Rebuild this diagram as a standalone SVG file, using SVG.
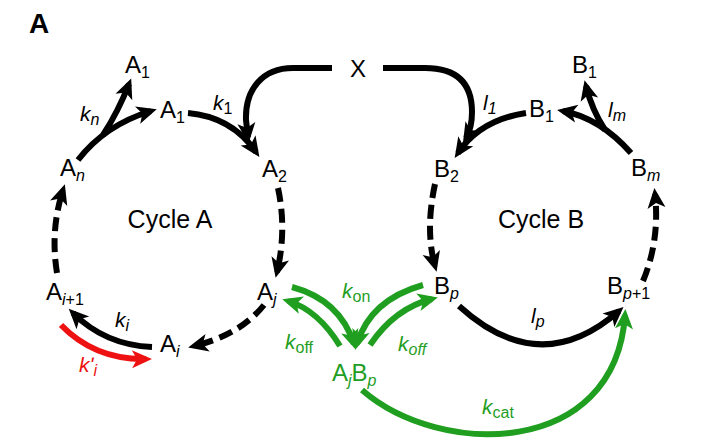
<svg xmlns="http://www.w3.org/2000/svg" width="728" height="444" viewBox="0 0 728 444">
<style>
text{font-family:"Liberation Sans",Arial,sans-serif;}
.n{font-size:24px;fill:#000;}
.r{font-size:21px;}
.it{font-style:italic;}
.sub{font-size:16px;}
.g{fill:#1f9e1f;}
.red{fill:#ee1111;}
.c{fill:none;stroke-width:6;stroke-linecap:butt;}
.k{stroke:#000;}
.gs{stroke:#1f9e1f;}
.rs{stroke:#ee1111;}
.d{stroke-dasharray:14,7;}
</style>
<defs>
<marker id="hb" viewBox="-16 -10 24 20" refX="0" refY="0" markerWidth="24" markerHeight="20" markerUnits="userSpaceOnUse" orient="auto"><path d="M6,0 L-14,-9 L-9,0 L-14,9 z" fill="#000"/></marker>
<marker id="hg" viewBox="-16 -10 24 20" refX="0" refY="0" markerWidth="24" markerHeight="20" markerUnits="userSpaceOnUse" orient="auto"><path d="M6,0 L-14,-9 L-9,0 L-14,9 z" fill="#1f9e1f"/></marker>
<marker id="hr" viewBox="-16 -10 24 20" refX="0" refY="0" markerWidth="24" markerHeight="20" markerUnits="userSpaceOnUse" orient="auto"><path d="M6,0 L-14,-9 L-9,0 L-14,9 z" fill="#ee1111"/></marker>
</defs>
<rect width="728" height="444" fill="#fff"/>
<text x="29" y="33" font-size="28" font-weight="bold">A</text>

<g id="connectors">
<path class="c k" d="M78,160 Q105,125 151,111" marker-end="url(#hb)"/>
<path class="c k" d="M103,135 Q118,112 129,84" marker-end="url(#hb)"/>
<path class="c k" d="M188,113 Q232,117 256,152" marker-end="url(#hb)"/>
<path class="c k" d="M332,68 L293,68 C262,68 245,90 246,120 L248,137" marker-end="url(#hb)"/>
<path class="c k d" d="M278,188 Q287,230 277,272" marker-end="url(#hb)"/>
<path class="c k d" d="M264,305 Q240,335 194,346" marker-end="url(#hb)"/>
<path class="c k" d="M152,347 Q105,345 73,313" marker-end="url(#hb)"/>
<path class="c rs" d="M61,325 Q95,360 146,359" marker-end="url(#hr)"/>
<path class="c k d" d="M57,273 Q50,230 63,190" marker-end="url(#hb)"/>
<path class="c k" d="M526,113 Q480,120 458,153" marker-end="url(#hb)"/>
<path class="c k" d="M383,68 L425,68 Q472,68 472,112 Q472,128 466,138" marker-end="url(#hb)"/>
<path class="c k" d="M631,153 Q600,118 563,111" marker-end="url(#hb)"/>
<path class="c k" d="M605,130 Q592,110 586,86" marker-end="url(#hb)"/>
<path class="c k d" d="M435,184 Q425,230 435,266" marker-end="url(#hb)"/>
<path class="c k" d="M459,306 Q540,380 619,311" marker-end="url(#hb)"/>
<path class="c k d" d="M643,281 Q660,240 655,194" marker-end="url(#hb)"/>
<path class="c gs" d="M292,287 Q340,300 354,344" marker-end="url(#hg)"/>
<path class="c gs" d="M423,285 Q370,300 357,344" marker-end="url(#hg)"/>
<path class="c gs" d="M340,346 Q318,310 288,301" marker-end="url(#hg)"/>
<path class="c gs" d="M370,345 Q395,308 432,299" marker-end="url(#hg)"/>
<path class="c gs" d="M362,390 C440,458 615,458 625,315" marker-end="url(#hg)"/>
</g>

<g id="labels">
<text class="r it" x="80" y="121">k<tspan class="sub" dy="4">n</tspan></text>
<text class="r it" x="213" y="110">k<tspan class="sub" dy="4" font-style="normal">1</tspan></text>
<text class="r it" x="115" y="327">k<tspan class="sub" dy="4">i</tspan></text>
<text class="r it red" x="79" y="372">kʹ<tspan class="sub" dy="4">i</tspan></text>
<text class="r g" x="342" y="298"><tspan class="it">k</tspan><tspan class="sub" dy="4">on</tspan></text>
<text class="r g" x="285" y="349"><tspan class="it">k</tspan><tspan class="sub" dy="4">off</tspan></text>
<text class="r g it" x="398" y="351">k<tspan class="sub" dy="4">off</tspan></text>
<text class="r g" x="482" y="414"><tspan class="it">k</tspan><tspan class="sub" dy="4">cat</tspan></text>
<text class="r it" x="483" y="110">l<tspan class="sub" dy="4">1</tspan></text>
<text class="r it" x="608" y="117">l<tspan class="sub" dy="4">m</tspan></text>
<text class="r it" x="531" y="323">l<tspan class="sub" dy="4">p</tspan></text>
</g>

<g id="X"><text class="n" x="350" y="77">X</text></g>
<g id="cycleA"><text x="170" y="228" font-size="25" text-anchor="middle">Cycle A</text></g>
<g id="cycleB"><text x="541" y="228" font-size="25" text-anchor="middle">Cycle B</text></g>
<g id="A1top"><text class="n" x="125" y="73">A<tspan class="sub" dy="5">1</tspan></text></g>
<g id="A1"><text class="n" x="160" y="118">A<tspan class="sub" dy="5">1</tspan></text></g>
<g id="A2"><text class="n" x="262" y="177">A<tspan class="sub" dy="5">2</tspan></text></g>
<g id="An"><text class="n" x="60" y="176">A<tspan class="sub it" dy="5">n</tspan></text></g>
<g id="Aj"><text class="n" x="257" y="300">A<tspan class="sub it" dy="5">j</tspan></text></g>
<g id="Ai"><text class="n" x="160" y="352">A<tspan class="sub it" dy="5">i</tspan></text></g>
<g id="Ai1"><text class="n" x="46" y="300">A<tspan class="sub" dy="5"><tspan class="it">i</tspan>+1</tspan></text></g>
<g id="B1top"><text class="n" x="572" y="73">B<tspan class="sub" dy="5">1</tspan></text></g>
<g id="B1"><text class="n" x="529" y="117">B<tspan class="sub" dy="5">1</tspan></text></g>
<g id="B2"><text class="n" x="434" y="177">B<tspan class="sub" dy="5">2</tspan></text></g>
<g id="Bm"><text class="n" x="631" y="176">B<tspan class="sub it" dy="5">m</tspan></text></g>
<g id="Bp"><text class="n" x="434" y="294">B<tspan class="sub it" dy="5">p</tspan></text></g>
<g id="Bp1"><text class="n" x="607" y="294">B<tspan class="sub" dy="5"><tspan class="it">p</tspan>+1</tspan></text></g>
<g id="AjBp"><text class="n g" x="332" y="381">A<tspan class="sub it" dy="5">j</tspan><tspan dy="-5">B</tspan><tspan class="sub it" dy="5">p</tspan></text></g>
</svg>
